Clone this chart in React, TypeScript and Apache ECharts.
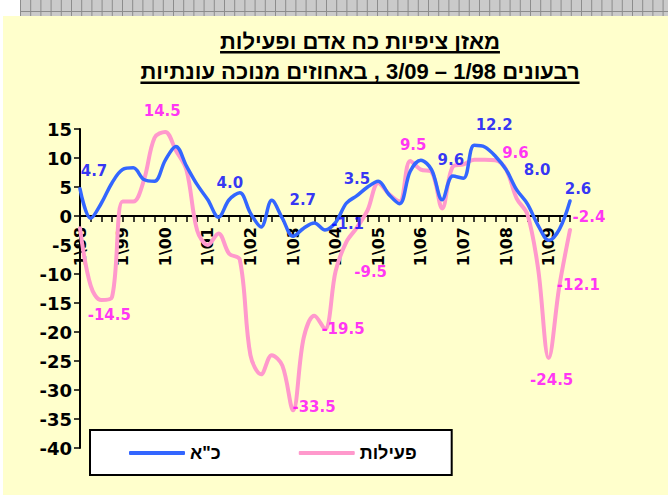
import React, { useEffect, useRef } from "react";
import * as echarts from "echarts";

// ---------- data ----------
const QUARTERS = [
  "1\\98", "2\\98", "3\\98", "4\\98",
  "1\\99", "2\\99", "3\\99", "4\\99",
  "1\\00", "2\\00", "3\\00", "4\\00",
  "1\\01", "2\\01", "3\\01", "4\\01",
  "1\\02", "2\\02", "3\\02", "4\\02",
  "1\\03", "2\\03", "3\\03", "4\\03",
  "1\\04", "2\\04", "3\\04", "4\\04",
  "1\\05", "2\\05", "3\\05", "4\\05",
  "1\\06", "2\\06", "3\\06", "4\\06",
  "1\\07", "2\\07", "3\\07", "4\\07",
  "1\\08", "2\\08", "3\\08", "4\\08",
  "1\\09", "2\\09", "3\\09",
];

const BLUE_NAME = 'כ"א';
const PINK_NAME = "פעילות";

const BLUE = [
  4.7, -0.4, 2.2, 5.7, 8.0, 8.3, 6.3, 6.0, 9.6, 12.0, 8.6, 5.4,
  2.8, -0.2, 2.8, 4.0, 0.5, -1.9, 2.7, -0.4, -3.5, -2.1, -1.2, -2.4,
  -1.1, 2.2, 3.5, 5.0, 6.0, 3.7, 2.1, 7.7, 9.6, 8.0, 2.8, 6.9,
  6.5, 12.2, 11.9, 10.3, 8.0, 4.5, 2.1, -1.6, -4.2, -2.3, 2.6,
];

const PINK = [
  -2.1, -12.0, -14.5, -14.0, 2.5, 2.5, 6.2, 13.5, 14.5, 11.3, 7.9, -2.5,
  -5.0, -3.0, -6.5, -7.5, -24.0, -27.3, -24.0, -25.8, -33.5, -21.0, -17.2, -19.5,
  -9.5, -4.5, -2.0, 1.0, 5.7, 3.8, 2.5, 9.5, 8.0, 7.6, 1.3, 8.5,
  8.9, 9.7, 9.7, 9.6, 8.0, 3.0, 0.3, -9.0, -24.5, -12.1, -2.4,
];

const BLUE_LABELED = [0, 15, 18, 24, 26, 32, 37, 40, 46];
const PINK_LABELED = [2, 8, 20, 23, 24, 31, 39, 44, 45, 46];

const TITLE_1 = "מאזן ציפיות כח אדם ופעילות";
const TITLE_2 = "רבעונים 1/98 – 3/09 , באחוזים מנוכה עונתיות";

const Y_MIN = -40;
const Y_MAX = 15;
const Y_STEP = 5;

// ---------- styling ----------
const BLUE_LABEL_OFFSETS: Record<number, [number, number]> = {
  0: [14, -18], 15: [-10, -10], 18: [31, 0], 24: [12, 2], 26: [0, -17],
  32: [30, 0], 37: [20, -20], 40: [31, 0], 46: [8, -12],
};
const PINK_LABEL_OFFSETS: Record<number, [number, number]> = {
  2: [8, 15], 8: [-3, -21], 20: [21, -3], 23: [18, 0], 24: [35, 1],
  31: [3, -16], 39: [20, -7], 44: [3, 22], 45: [19, -1], 46: [19, -13],
};

const HEB_FONT = '"Liberation Sans", Arial, sans-serif';
const NUM_FONT = '"DejaVu Sans", sans-serif';

const GRID_TOP = 129;
const GRID_BOTTOM = 47;
const CHART_H = 495;

function measure(text: string, font: string): number {
  const c = document.createElement("canvas").getContext("2d");
  if (!c) return text.length * 10;
  c.font = font;
  return c.measureText(text).width;
}

export default function App() {
  const ref = useRef<HTMLDivElement>(null);

  useEffect(() => {
    if (!ref.current) return;
    const chart = echarts.init(ref.current, null, { renderer: "svg" });

    const t1Font = `bold 22px ${HEB_FONT}`;
    const t2Font = `bold 22px ${HEB_FONT}`;
    const cx = 360;
    const w1 = measure(TITLE_1, t1Font);
    const w2 = measure(TITLE_2, t2Font);

    // move the category axis (line, ticks, labels) up to the zero line
    const gridH = CHART_H - GRID_TOP - GRID_BOTTOM;
    const zeroOffset = -(gridH * (0 - Y_MIN)) / (Y_MAX - Y_MIN);

    const hatch: any[] = [
      { type: "rect", shape: { x: 0, y: 0, width: 668, height: 16 }, style: { fill: "#ffffff" }, silent: true },
      { type: "rect", shape: { x: 0, y: 0, width: 3, height: 495 }, style: { fill: "#ffffff" }, silent: true },
      { type: "rect", shape: { x: 20, y: 0, width: 648, height: 16 }, style: { fill: "#cacaca" }, silent: true },
      { type: "line", shape: { x1: 20, y1: 11.5, x2: 668, y2: 11.5 }, style: { stroke: "#8c8c8c", lineWidth: 1 }, silent: true },
    ];
    for (let x = 20.5; x < 668; x += 10.2) {
      hatch.push({
        type: "line",
        shape: { x1: x, y1: 0, x2: x, y2: 16 },
        style: { stroke: "#8c8c8c", lineWidth: 1 },
        silent: true,
      });
    }

    const labelItems = (
      vals: number[],
      idx: number[],
      offs: Record<number, [number, number]>
    ) =>
      idx.map((i) => ({
        value: [i, vals[i]],
        label: { offset: offs[i] || [0, 0] },
      }));

    const labelStyle = (color: string) => ({
      show: true,
      position: "inside",
      color,
      fontFamily: NUM_FONT,
      fontWeight: "bold",
      fontSize: 15,
      formatter: (p: any) => Number(p.value[1]).toFixed(1),
    });

    chart.setOption({
      animation: false,
      backgroundColor: "#FFFFCC",
      grid: { left: 80, right: 98, top: GRID_TOP, bottom: GRID_BOTTOM, containLabel: false },
      graphic: [
        ...hatch,
        {
          type: "text",
          x: cx,
          y: 41,
          style: { text: TITLE_1, font: t1Font, fill: "#000", textAlign: "center", textVerticalAlign: "middle" },
        },
        {
          type: "rect",
          shape: { x: cx - w1 / 2, y: 51, width: w1, height: 2.5 },
          style: { fill: "#000" },
        },
        {
          type: "text",
          x: cx,
          y: 71,
          style: { text: TITLE_2, font: t2Font, fill: "#000", textAlign: "center", textVerticalAlign: "middle" },
        },
        {
          type: "rect",
          shape: { x: cx - w2 / 2, y: 81.5, width: w2, height: 2.5 },
          style: { fill: "#000" },
        },
      ],
      legend: {
        data: [BLUE_NAME, PINK_NAME],
        left: 90,
        top: 430,
        orient: "horizontal",
        backgroundColor: "#ffffff",
        borderColor: "#000000",
        borderWidth: 2,
        borderRadius: 0,
        padding: [14, 35, 13, 39],
        itemGap: 78,
        itemWidth: 56,
        itemHeight: 4,
        icon: "roundRect",
        textStyle: { fontFamily: HEB_FONT, fontWeight: "bold", fontSize: 18, color: "#000" },
      },
      xAxis: {
        type: "category",
        data: QUARTERS,
        boundaryGap: false,
        position: "bottom",
        offset: zeroOffset,
        axisLine: { onZero: false, lineStyle: { color: "#000", width: 2 } },
        axisTick: { show: true, interval: 0, length: 6, lineStyle: { color: "#000", width: 1.5 } },
        axisLabel: {
          interval: 3,
          rotate: 90,
          margin: 11,
          color: "#000",
          fontFamily: NUM_FONT,
          fontWeight: "bold",
          fontSize: 16,
        },
        splitLine: { show: false },
      },
      yAxis: {
        type: "value",
        min: Y_MIN,
        max: Y_MAX,
        interval: Y_STEP,
        axisLine: { show: true, lineStyle: { color: "#000", width: 2 } },
        axisTick: { show: true, length: 6, lineStyle: { color: "#000", width: 1.5 } },
        axisLabel: {
          margin: 8,
          color: "#000",
          fontFamily: NUM_FONT,
          fontWeight: "bold",
          fontSize: 18,
        },
        splitLine: { show: false },
      },
      series: [
        {
          name: PINK_NAME,
          type: "line",
          data: PINK,
          smooth: 0.35,
          symbol: "none",
          showSymbol: false,
          lineStyle: { color: "#FF99CC", width: 4, cap: "round", join: "round" },
          itemStyle: { color: "#FF99CC" },
          z: 2,
        },
        {
          name: BLUE_NAME,
          type: "line",
          data: BLUE,
          smooth: 0.35,
          symbol: "none",
          showSymbol: false,
          lineStyle: { color: "#3366FF", width: 3.5, cap: "round", join: "round" },
          itemStyle: { color: "#3366FF" },
          z: 3,
        },
        {
          name: "pinkLabels",
          type: "scatter",
          data: labelItems(PINK, PINK_LABELED, PINK_LABEL_OFFSETS),
          symbolSize: 1,
          itemStyle: { color: "rgba(0,0,0,0)" },
          label: labelStyle("#FF00FF"),
          silent: true,
          z: 5,
        },
        {
          name: "blueLabels",
          type: "scatter",
          data: labelItems(BLUE, BLUE_LABELED, BLUE_LABEL_OFFSETS),
          symbolSize: 1,
          itemStyle: { color: "rgba(0,0,0,0)" },
          label: labelStyle("#0000FF"),
          silent: true,
          z: 5,
        },
      ],
    });

    return () => chart.dispose();
  }, []);

  return (
    <div
      ref={ref}
      style={{ position: "absolute", left: 0, top: 0, width: 668, height: 495 }}
    />
  );
}
